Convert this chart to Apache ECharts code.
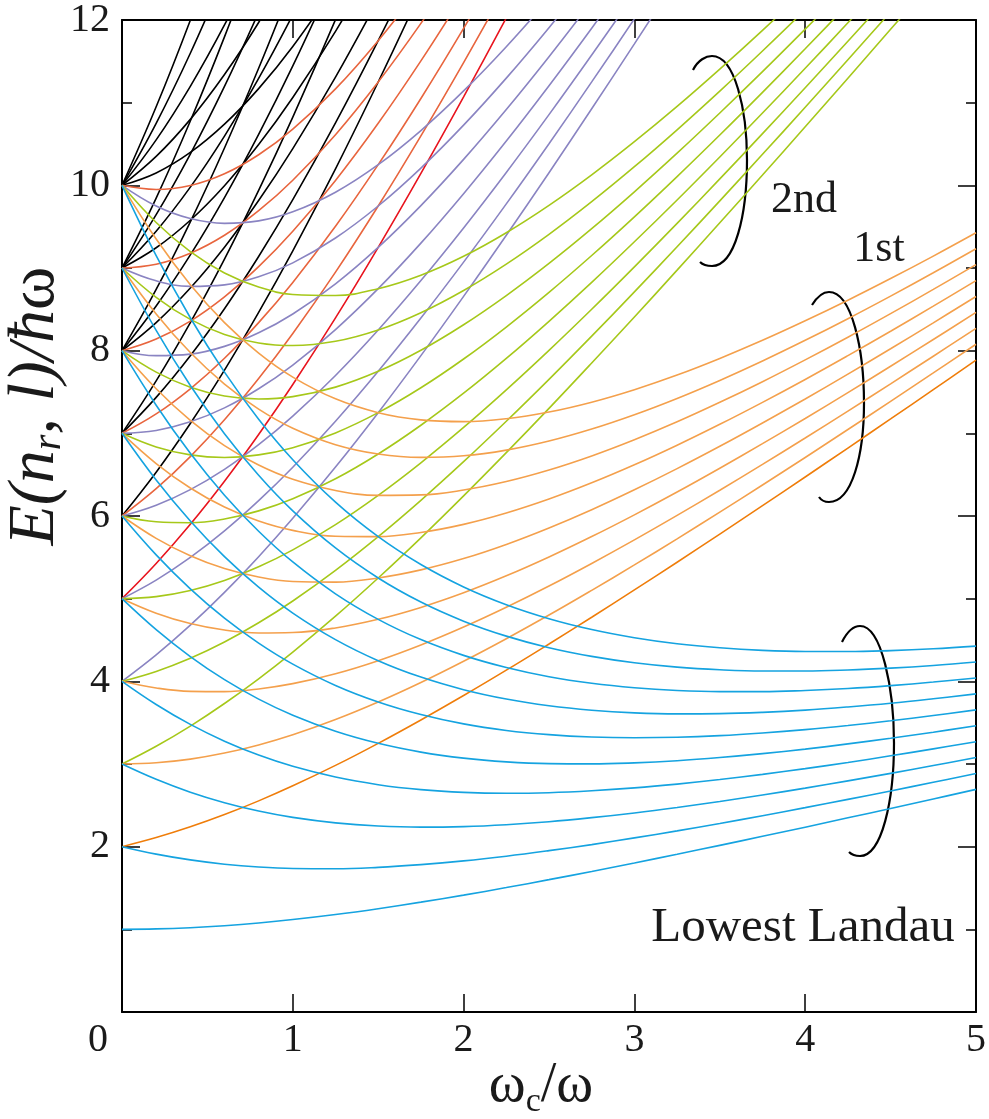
<!DOCTYPE html>
<html>
<head>
<meta charset="utf-8">
<script src="https://cdn.jsdelivr.net/npm/echarts@6/dist/echarts.min.js"></script>
<style>
  html, body { margin: 0; padding: 0; background: #fff; }
  #chart { width: 989px; height: 1119px; }
</style>
</head>
<body>
<div id="chart"></div>
<script>
// ---- x sample points (omega_c / omega) ----
const XS = [0, 0.2, 0.4, 0.6, 0.8, 1, 1.25, 1.5, 1.75, 2, 2.25, 2.5, 2.75, 3, 3.25, 3.5, 3.75, 4, 4.25, 4.5, 4.75, 5];

// ---- axis tick labels ----
const X_TICKS = [0, 1, 2, 3, 4, 5];
const Y_TICKS = [0, 2, 4, 6, 8, 10, 12];

// ---- Lowest Landau level (n_r = 0, l = 0..9) ----
const lowest_l0 = [1,1.005,1.020,1.044,1.077,1.118,1.179,1.250,1.329,1.414,1.505,1.601,1.700,1.803,1.908,2.016,2.125,2.236,2.349,2.462,2.577,2.693];
const lowest_l1 = [2,1.910,1.840,1.788,1.754,1.736,1.733,1.750,1.783,1.828,1.885,1.952,2.025,2.106,2.191,2.281,2.375,2.472,2.572,2.674,2.779,2.885];
const lowest_l2 = [3,2.815,2.659,2.532,2.431,2.354,2.288,2.250,2.236,2.243,2.266,2.302,2.351,2.408,2.474,2.547,2.625,2.708,2.796,2.887,2.981,3.078];
const lowest_l3 = [4,3.720,3.479,3.276,3.108,2.972,2.842,2.750,2.690,2.657,2.646,2.653,2.676,2.711,2.757,2.812,2.875,2.944,3.019,3.099,3.183,3.270];
const lowest_l4 = [5,4.625,4.299,4.020,3.785,3.590,3.396,3.250,3.144,3.071,3.026,3.004,3.001,3.014,3.040,3.078,3.125,3.180,3.243,3.311,3.385,3.463];
const lowest_l5 = [6,5.530,5.119,4.764,4.462,4.208,3.950,3.750,3.598,3.485,3.406,3.355,3.326,3.317,3.323,3.343,3.375,3.416,3.466,3.523,3.587,3.655];
const lowest_l6 = [7,6.435,5.939,5.508,5.139,4.826,4.505,4.250,4.051,3.899,3.786,3.705,3.651,3.619,3.606,3.609,3.625,3.652,3.690,3.735,3.789,3.848];
const lowest_l7 = [8,7.340,6.758,6.252,5.816,5.444,5.059,4.750,4.505,4.314,4.167,4.056,3.976,3.922,3.889,3.875,3.875,3.889,3.913,3.948,3.991,4.041];
const lowest_l8 = [9,8.245,7.578,6.996,6.493,6.062,5.613,5.250,4.959,4.728,4.547,4.407,4.302,4.225,4.172,4.140,4.125,4.125,4.137,4.160,4.192,4.233];
const lowest_l9 = [10,9.150,8.398,7.740,7.170,6.680,6.167,5.750,5.413,5.142,4.927,4.758,4.627,4.528,4.455,4.406,4.375,4.361,4.360,4.372,4.394,4.426];

// ---- 1st Landau level ----
const first_n0_lm1 = [2,2.110,2.240,2.388,2.554,2.736,2.983,3.250,3.533,3.828,4.135,4.452,4.775,5.106,5.441,5.781,6.125,6.472,6.822,7.174,7.529,7.885];
const first_l0 = [3,3.015,3.059,3.132,3.231,3.354,3.538,3.750,3.986,4.243,4.516,4.802,5.101,5.408,5.724,6.047,6.375,6.708,7.046,7.387,7.731,8.078];
const first_l1 = [4,3.920,3.879,3.876,3.908,3.972,4.092,4.250,4.440,4.657,4.896,5.153,5.426,5.711,6.007,6.312,6.625,6.944,7.269,7.599,7.933,8.270];
const first_l2 = [5,4.825,4.699,4.620,4.585,4.590,4.646,4.750,4.894,5.071,5.276,5.504,5.751,6.014,6.290,6.578,6.875,7.180,7.493,7.811,8.135,8.463];
const first_l3 = [6,5.730,5.519,5.364,5.262,5.208,5.200,5.250,5.348,5.485,5.656,5.855,6.076,6.317,6.573,6.843,7.125,7.416,7.716,8.023,8.337,8.655];
const first_l4 = [7,6.635,6.339,6.108,5.939,5.826,5.755,5.750,5.801,5.899,6.036,6.205,6.401,6.619,6.856,7.109,7.375,7.652,7.940,8.235,8.539,8.848];
const first_l5 = [8,7.540,7.158,6.852,6.616,6.444,6.309,6.250,6.255,6.314,6.417,6.556,6.726,6.922,7.139,7.375,7.625,7.889,8.163,8.448,8.741,9.041];
const first_l6 = [9,8.445,7.978,7.596,7.293,7.062,6.863,6.750,6.709,6.728,6.797,6.907,7.052,7.225,7.422,7.640,7.875,8.125,8.387,8.660,8.942,9.233];
const first_l7 = [10,9.350,8.798,8.340,7.970,7.680,7.417,7.250,7.163,7.142,7.177,7.258,7.377,7.528,7.705,7.906,8.125,8.361,8.610,8.872,9.144,9.426];

// ---- 2nd Landau level ----
const second_a = [3,3.215,3.459,3.732,4.031,4.354,4.788,5.250,5.736,6.243,6.766,7.302,7.851,8.408,8.974,9.547,10.125,10.708,11.296,11.887,12.481,13.078];
const second_b = [4,4.120,4.279,4.476,4.708,4.972,5.342,5.750,6.190,6.657,7.146,7.653,8.176,8.711,9.257,9.812,10.375,10.944,11.519,12.099,12.683,13.270];
const second_c = [5,5.025,5.099,5.220,5.385,5.590,5.896,6.250,6.644,7.071,7.526,8.004,8.501,9.014,9.540,10.078,10.625,11.180,11.743,12.311,12.885,13.463];
const second_d = [6,5.930,5.919,5.964,6.062,6.208,6.450,6.750,7.098,7.485,7.906,8.355,8.826,9.317,9.823,10.343,10.875,11.416,11.966,12.523,13.087];
const second_e = [7,6.835,6.739,6.708,6.739,6.826,7.005,7.250,7.551,7.899,8.286,8.705,9.151,9.619,10.106,10.609,11.125,11.652,12.190,12.735];
const second_f = [8,7.740,7.558,7.452,7.416,7.444,7.559,7.750,8.005,8.314,8.667,9.056,9.476,9.922,10.389,10.875,11.375,11.889,12.413,12.948];
const second_g = [9,8.645,8.378,8.196,8.093,8.062,8.113,8.250,8.459,8.728,9.047,9.407,9.802,10.225,10.672,11.140,11.625,12.125,12.637];
const second_h = [10,9.550,9.198,8.940,8.770,8.680,8.667,8.750,8.913,9.142,9.427,9.758,10.127,10.528,10.955,11.406,11.875,12.361,12.860];

// ---- 3rd Landau level ----
const third_a = [4,4.320,4.679,5.076,5.508,5.972,6.592,7.250,7.940,8.657,9.396,10.153,10.926,11.711,12.507,13.312];
const third_b = [5,5.225,5.499,5.820,6.185,6.590,7.146,7.750,8.394,9.071,9.776,10.504,11.251,12.014,12.790];
const third_c = [6,6.130,6.319,6.564,6.862,7.208,7.700,8.250,8.848,9.485,10.156,10.855,11.576,12.317,13.073];
const third_d = [7,7.035,7.139,7.308,7.539,7.826,8.255,8.750,9.301,9.899,10.536,11.205,11.901,12.619];
const third_e = [8,7.940,7.958,8.052,8.216,8.444,8.809,9.250,9.755,10.314,10.917,11.556,12.226,12.922];
const third_f = [9,8.845,8.778,8.796,8.893,9.062,9.363,9.750,10.209,10.728,11.297,11.907,12.552];
const third_g = [10,9.750,9.598,9.540,9.570,9.680,9.917,10.250,10.663,11.142,11.677,12.258];

// ---- 4th Landau level ----
const fourth_n0 = [5,5.425,5.899,6.420,6.985,7.590,8.396,9.250,10.144,11.071,12.026,13.004];
const fourth_b = [6,6.330,6.719,7.164,7.662,8.208,8.950,9.750,10.598,11.485,12.406,13.355];
const fourth_c = [7,7.235,7.539,7.908,8.339,8.826,9.505,10.250,11.051,11.899,12.786];
const fourth_d = [8,8.140,8.358,8.652,9.016,9.444,10.059,10.750,11.505,12.314];
const fourth_e = [9,9.045,9.178,9.396,9.693,10.062,10.613,11.250,11.959,12.728];
const fourth_f = [10,9.950,9.998,10.140,10.370,10.680,11.167,11.750,12.413];

// ---- higher Landau levels (5th and above) ----
const high_5a = [6,6.530,7.119,7.764,8.462,9.208,10.200,11.250,12.348];
const high_5b = [7,7.435,7.939,8.508,9.139,9.826,10.755,11.750,12.801];
const high_5c = [8,8.340,8.758,9.252,9.816,10.444,11.309,12.250];
const high_5d = [9,9.245,9.578,9.996,10.493,11.062,11.863,12.750];
const high_5e = [10,10.150,10.398,10.740,11.170,11.680,12.417];
const high_6a = [7,7.635,8.339,9.108,9.939,10.826,12.005,13.250];
const high_6b = [8,8.540,9.158,9.852,10.616,11.444,12.559];
const high_6c = [9,9.445,9.978,10.596,11.293,12.062];
const high_6d = [10,10.350,10.798,11.340,11.970,12.680];
const high_7a = [8,8.740,9.558,10.452,11.416,12.444];
const high_7b = [9,9.645,10.378,11.196,12.093];
const high_7c = [10,10.550,11.198,11.940,12.770];
const high_8a = [9,9.845,10.778,11.796,12.893];
const high_8b = [10,10.750,11.598,12.540];
const high_9a = [10,10.950,11.998,13.140];

// ---- groups ----
const GROUPS = [
  { color: '#000000', curves: [high_5a, high_5b, high_5c, high_5d, high_5e, high_6a, high_6b, high_6c, high_6d, high_7a, high_7b, high_7c, high_8a, high_8b, high_9a] },
  { color: '#e8653e', curves: [fourth_b, fourth_c, fourth_d, fourth_e, fourth_f] },
  { color: '#e8141e', curves: [fourth_n0] },
  { color: '#8a84c2', curves: [third_a, third_b, third_c, third_d, third_e, third_f, third_g] },
  { color: '#a6c81a', curves: [second_a, second_b, second_c, second_d, second_e, second_f, second_g, second_h] },
  { color: '#f4a04c', curves: [first_l0, first_l1, first_l2, first_l3, first_l4, first_l5, first_l6, first_l7] },
  { color: '#ef7d0a', curves: [first_n0_lm1] },
  { color: '#15a3e0', curves: [lowest_l0, lowest_l1, lowest_l2, lowest_l3, lowest_l4, lowest_l5, lowest_l6, lowest_l7, lowest_l8, lowest_l9] }
];

// ---- bracket annotations: cubic pieces [x1,y1, c1x,c1y, c2x,c2y, x2,y2] (pixels) ----
const BRACKETS = [
  [[693,70, 698,60, 706,56, 712,56], [712,56, 735,56, 747,110, 747,160], [747,160, 747,215, 735,266, 712,266], [712,266, 707,266, 703,265, 700,262]],
  [[812,305, 817,297, 823,292, 829,292], [829,292, 852,292, 864,350, 864,403], [864,403, 864,455, 852,502, 829,502], [829,502, 824,502, 821,500, 819,497]],
  [[842,642, 847,632, 853,626, 860,626], [860,626, 882,626, 894,690, 894,743], [894,743, 894,800, 882,856, 860,856], [860,856, 855,856, 852,855, 849,852]]
];

const SERIF = 'Liberation Serif, Times New Roman, serif';
const TXT = '#1a1a1a';

const series = [];
GROUPS.forEach(function (g) {
  g.curves.forEach(function (ys) {
    series.push({
      type: 'line',
      data: ys.map(function (y, i) { return [XS[i], y]; }),
      showSymbol: false,
      smooth: 0.4,
      clip: true,
      silent: true,
      animation: false,
      lineStyle: { color: g.color, width: 1.6 }
    });
  });
});

const graphics = [
  // y-axis title
  {
    type: 'text', x: 36, y: 406, rotation: Math.PI / 2, silent: true,
    style: {
      text: '{i|E(n}{s|r}{i|, l)/ħ}{w|ω}',
      align: 'center', verticalAlign: 'middle', fill: TXT,
      rich: {
        i: { fontFamily: SERIF, fontStyle: 'italic', fontSize: 66, lineHeight: 66, fill: TXT, verticalAlign: 'middle' },
        s: { fontFamily: SERIF, fontStyle: 'italic', fontSize: 40, lineHeight: 40, fill: TXT, verticalAlign: 'bottom' },
        w: { fontFamily: SERIF, fontSize: 66, lineHeight: 66, fill: TXT, verticalAlign: 'middle' }
      }
    }
  },
  // x-axis title
  {
    type: 'text', x: 541, y: 1086, silent: true,
    style: {
      text: '{w|ω}{s|c}{w|/ω}',
      align: 'center', verticalAlign: 'middle', fill: TXT,
      rich: {
        w: { fontFamily: SERIF, fontSize: 56, lineHeight: 66, fill: TXT, verticalAlign: 'middle' },
        s: { fontFamily: SERIF, fontSize: 34, lineHeight: 30, fill: TXT, verticalAlign: 'bottom' }
      }
    }
  },
  // level labels
  { type: 'text', x: 804, y: 200, silent: true,
    style: { text: '2nd', fontFamily: SERIF, fontSize: 44, fill: TXT, align: 'center', verticalAlign: 'middle' } },
  { type: 'text', x: 879, y: 249, silent: true,
    style: { text: '1st', fontFamily: SERIF, fontSize: 44, fill: TXT, align: 'center', verticalAlign: 'middle' } },
  { type: 'text', x: 803, y: 928, silent: true,
    style: { text: 'Lowest Landau', fontFamily: SERIF, fontSize: 49, fill: TXT, align: 'center', verticalAlign: 'middle' } }
];
BRACKETS.forEach(function (br) {
  br.forEach(function (p) {
    graphics.push({
      type: 'bezierCurve', silent: true,
      shape: { x1: p[0], y1: p[1], cpx1: p[2], cpy1: p[3], cpx2: p[4], cpy2: p[5], x2: p[6], y2: p[7] },
      style: { fill: null, stroke: '#000', lineWidth: 2.2 }
    });
  });
});

const axisLineStyle = { color: '#000', width: 2 };

const chart = echarts.init(document.getElementById('chart'), null, { renderer: 'canvas' });
chart.setOption({
  backgroundColor: '#ffffff',
  animation: false,
  grid: { left: 122, right: 8, top: 18, bottom: 107, containLabel: false },
  xAxis: [
    {
      type: 'value', min: X_TICKS[0], max: X_TICKS[X_TICKS.length - 1], interval: 1, position: 'bottom',
      axisLine: { show: true, onZero: false, lineStyle: axisLineStyle },
      axisTick: { show: true, inside: true, length: 18, lineStyle: { color: '#000', width: 1.5 } },
      splitLine: { show: false },
      axisLabel: {
        show: true, margin: 8, color: TXT, fontFamily: SERIF, fontSize: 40,
        formatter: function (v) { return v === 0 ? '{z|0}' : String(v); },
        rich: { z: { fontFamily: SERIF, fontSize: 40, color: TXT, padding: [0, 48, 0, 0] } }
      }
    },
    {
      type: 'value', min: X_TICKS[0], max: X_TICKS[X_TICKS.length - 1], interval: 1, position: 'top',
      axisLine: { show: true, onZero: false, lineStyle: axisLineStyle },
      axisTick: { show: true, inside: true, length: 18, lineStyle: { color: '#000', width: 1.5 } },
      splitLine: { show: false },
      axisLabel: { show: false }
    }
  ],
  yAxis: [
    {
      type: 'value', min: Y_TICKS[0], max: Y_TICKS[Y_TICKS.length - 1], interval: 2, position: 'left',
      axisLine: { show: true, onZero: false, lineStyle: axisLineStyle },
      axisTick: { show: true, inside: true, length: 18, lineStyle: { color: '#000', width: 1.5 } },
      minorTick: { show: true, splitNumber: 2, length: 10, lineStyle: { color: '#000', width: 1.5 } },
      splitLine: { show: false },
      axisLabel: { show: true, showMinLabel: false, margin: 12, color: TXT, fontFamily: SERIF, fontSize: 40 }
    },
    {
      type: 'value', min: Y_TICKS[0], max: Y_TICKS[Y_TICKS.length - 1], interval: 2, position: 'right',
      axisLine: { show: true, onZero: false, lineStyle: axisLineStyle },
      axisTick: { show: true, inside: true, length: 18, lineStyle: { color: '#000', width: 1.5 } },
      minorTick: { show: true, splitNumber: 2, length: 10, lineStyle: { color: '#000', width: 1.5 } },
      splitLine: { show: false },
      axisLabel: { show: false }
    }
  ],
  series: series,
  graphic: graphics
});
</script>
</body>
</html>
